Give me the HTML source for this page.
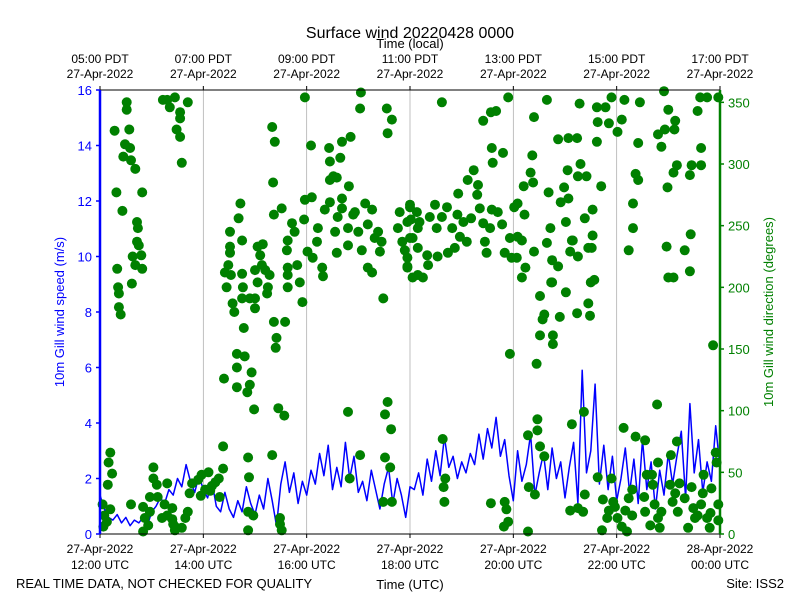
<!DOCTYPE html>
<html><head><meta charset="utf-8"><style>
body{margin:0;background:#fff;}
svg{display:block;font-family:"Liberation Sans","DejaVu Sans",sans-serif;}
</style></head><body>
<svg id="chart" width="800" height="600" viewBox="0 0 800 600">
<rect x="0" y="0" width="800" height="600" fill="#fff"/>
<text x="410" y="38" text-anchor="middle" font-size="16">Surface wind 20220428 0000</text>
<text x="410" y="48" text-anchor="middle" font-size="13">Time (local)</text>
<g id="grid"></g>
<g id="series"></g>
<g id="axes"></g>
<text transform="translate(64,312) rotate(-90)" text-anchor="middle" font-size="13" fill="blue">10m Gill wind speed (m/s)</text>
<text transform="translate(773,312) rotate(-90)" text-anchor="middle" font-size="13" fill="green">10m Gill wind direction (degrees)</text>
<text x="16" y="588" font-size="13">REAL TIME DATA, NOT CHECKED FOR QUALITY</text>
<text x="410" y="589" text-anchor="middle" font-size="13">Time (UTC)</text>
<text x="784" y="588" text-anchor="end" font-size="13">Site: ISS2</text>
</svg>
<script>
const speedStartMin = 0;
const speedStepMin = 5;
const speedValues = [1.4,0.9,0.6,0.5,0.7,0.4,0.6,0.3,0.5,0.4,0.6,0.3,0.8,
1.0,1.3,1.1,1.6,1.4,2.0,1.7,2.5,1.9,1.5,2.1,1.6,
1.3,1.9,1.0,0.8,1.5,0.9,0.6,1.2,0.8,1.7,1.1,0.7,
1.4,0.9,2.0,1.2,0.3,1.8,2.6,1.5,2.2,1.1,1.9,1.4,
2.3,1.8,2.9,2.1,3.2,1.6,2.4,1.7,3.3,2.0,2.8,1.5,
1.9,1.2,2.3,1.6,0.9,1.8,2.4,1.1,2.0,1.4,0.6,1.7,
1.6,2.2,1.4,2.7,1.9,3.0,2.1,3.5,2.4,2.8,2.0,2.6,
2.2,2.9,2.5,3.6,2.7,3.8,3.1,4.2,2.8,3.4,2.1,1.2,
3.0,1.9,2.5,3.6,1.4,2.2,2.9,1.6,3.1,2.0,2.6,1.3,
2.4,3.3,1.1,5.9,2.2,3.0,5.4,1.8,3.2,1.6,2.8,1.2,
2.0,3.1,1.5,2.7,1.1,3.4,1.6,2.6,0.9,2.3,1.4,2.9,
1.8,2.8,3.7,1.3,4.7,2.2,3.4,1.5,2.6,1.9,3.9,2.4];
const dirMinutes = [12,10,14,9,4,5,3,12,8,17,31,31,34,29,27,35,36,41,19,49,26,43,44,43,45,38,48,41,49,20,37,21,22,22,24,
36,50,62,62,66,78,58,67,75,84,72,78,87,52,58,56,50,
73,87,81,93,93,102,89,93,95,78,
95,99,102,104,107,114,118,122,126,130,134,138,117,128,139,143,143,84,87,85,
163,161,151,165,151,151,149,145,152,147,165,166,154,156,165,180,180,174,167,159,159,168,176,159,171,174,144,179,
183,189,186,188,192,197,195,194,183,180,200,203,201,202,211,202,215,205,204,207,214,
172,173,200,172,178,172,209,211,209,
217,218,223,226,218,218,218,229,232,235,237,238,246,245,241,247,252,253,258,259,261,267,267,267,266,271,279,281,291,275,276,281,281,273,275,288,289,294,296,288,300,304,308,311,316,319,311,316,323,325,327,329,333,339,334,303,302,238,348,346,351,354,357,360,361,363,363,
288,290,302,331,334,331,338,337,329,339,
360,357,360,357,357,368,369,371,369,369,375,380,381,383,389,391,392,397,403,404,409,412,415,416,418,422,426,427,431,434,438,439,441,445,447,449,453,455,456,455,460,454,445,397,462,467,468,470,474,476,478,476,481,485,484,485,490,490,493,494,492,502,500,503,504,504,519,521,523,519,525,532,524,532,535,539,541,544,548,544,554,557,543,558,555,565,541,546,555,549,563,567,572,572,571,570,574,567,569,554,534,526,526,511,514,516,511,525,507,577,578,577,582,587,591,594,601,606,609,627,625,622,625,619,619,614,655,660,668,667,656,648,652,670,666,659,658,660,666,679,686,685,685,687,698,698,694,697,705,718,712,
398,401,399,400,454,470,472,474,469,497,498,505,508,508,511,516,497,546,548,555,561,562,563,578,584,583,589,591,594,596,598,601,606,608,610,612,614,618,618,622,633,632,633,635,639,641,642,644,647,648,648,650,652,662,663,665,668,670,671,673,679,683,687,689,691,694,698,701,700,705,708,709,710,715,716,718,718];
const dirValues = [66,58,49,40,6,15,24,20,10,327,350,344,328,316,306,313,303,296,277,277,262,253,248,237,234,225,226,218,215,215,203,200,195,184,178,
24,22,54,45,40,41,30,30,24,21,13,15,6,13,18,7,2,
352,354,346,342,337,350,328,322,301,352,
5,13,18,33,41,44,48,36,50,39,42,45,31,35,30,71,53,12,3,8,
268,256,245,238,233,228,218,212,210,200,211,200,187,180,191,191,183,191,167,146,135,144,131,119,115,121,126,101,
233,235,226,218,214,210,200,195,204,214,330,318,285,259,264,172,172,159,151,102,96,
62,46,64,18,15,3,13,3,8,
230,238,252,245,216,210,200,218,204,188,255,271,273,315,229,224,237,248,216,209,263,269,287,302,313,290,305,318,322,289,257,272,264,245,228,248,282,259,261,234,245,230,268,251,263,240,216,212,245,229,237,191,345,336,325,358,345,354,261,248,237,230,216,267,255,240,208,
99,45,64,62,107,97,85,54,26,26,
265,253,240,224,217,261,248,253,232,210,208,226,218,257,267,248,225,257,265,228,248,232,259,276,241,253,237,287,256,295,275,283,264,252,237,228,248,263,301,313,343,342,335,350,261,251,309,228,354,240,224,146,265,268,224,241,238,208,259,216,282,307,293,285,338,229,352,277,248,236,222,217,204,320,269,281,253,272,238,321,321,349,295,300,290,290,196,229,225,238,256,232,263,242,232,204,206,187,177,179,176,161,154,161,174,178,193,204,138,346,334,318,282,346,333,354,326,336,352,350,317,292,287,268,248,230,359,344,335,328,328,324,314,299,293,281,233,208,208,230,243,213,291,299,299,313,343,354,354,354,153,
77,45,38,26,25,26,20,10,6,80,38,32,93,84,71,63,2,19,89,21,18,99,32,46,28,3,13,19,45,26,22,13,6,86,19,2,29,36,15,79,76,30,18,48,7,48,40,24,105,58,13,5,18,40,64,26,33,75,18,41,29,5,38,21,13,15,24,48,33,13,5,17,37,66,58,24,11];
const xTicksUtc = ["12:00 UTC","14:00 UTC","16:00 UTC","18:00 UTC","20:00 UTC","22:00 UTC","00:00 UTC"];
const xTicksUtcDate = ["27-Apr-2022","27-Apr-2022","27-Apr-2022","27-Apr-2022","27-Apr-2022","27-Apr-2022","28-Apr-2022"];
const xTicksLocal = ["05:00 PDT","07:00 PDT","09:00 PDT","11:00 PDT","13:00 PDT","15:00 PDT","17:00 PDT"];
const xTicksLocalDate = ["27-Apr-2022","27-Apr-2022","27-Apr-2022","27-Apr-2022","27-Apr-2022","27-Apr-2022","27-Apr-2022"];
const xTickMinutes = [0,120,240,360,480,600,720];
const leftTicks = [0,2,4,6,8,10,12,14,16];
const rightTicks = [0,50,100,150,200,250,300,350];

const NS="http://www.w3.org/2000/svg";
const L=100,R=720,T=90,B=534;
function xs(m){return L+(m/720)*(R-L);}
function ysp(v){return B-(v/16)*(B-T);}
function ydir(d){return B-(d/360)*(B-T);}
function mk(tag,attrs,parent){const e=document.createElementNS(NS,tag);for(const k in attrs)e.setAttribute(k,attrs[k]);parent.appendChild(e);return e;}
const grid=document.getElementById('grid'),series=document.getElementById('series'),axes=document.getElementById('axes');

xTickMinutes.forEach((m,i)=>{
  if(i>0&&i<xTickMinutes.length-1){const g=mk('line',{x1:xs(m),x2:xs(m),y1:T,y2:B,stroke:'#b0b0b0','stroke-width':0.8},grid);
  
  }
  mk('line',{x1:xs(m),x2:xs(m),y1:B,y2:B+4,stroke:'#000'},axes);
  mk('line',{x1:xs(m),x2:xs(m),y1:T,y2:T-4,stroke:'#000'},axes);
  const t1=mk('text',{x:xs(m),y:553,'text-anchor':'middle','font-size':12},axes);t1.textContent=xTicksUtcDate[i];
  
  
  const t2=mk('text',{x:xs(m),y:569,'text-anchor':'middle','font-size':12},axes);t2.textContent=xTicksUtc[i];
  
  
  const t3=mk('text',{x:xs(m),y:63,'text-anchor':'middle','font-size':12},axes);t3.textContent=xTicksLocal[i];
  
  
  const t4=mk('text',{x:xs(m),y:78,'text-anchor':'middle','font-size':12},axes);t4.textContent=xTicksLocalDate[i];
  
  
});

let d='';
speedValues.forEach((v,i)=>{d+=(i?'L':'M')+xs(speedStartMin+i*speedStepMin).toFixed(1)+','+ysp(v).toFixed(1);});
const line=mk('path',{d:d,fill:'none',stroke:'blue','stroke-width':1.5,'stroke-linejoin':'round'},series);



const nDir=Math.min(dirMinutes.length,dirValues.length);
for(let i=0;i<nDir;i++){
  const c=mk('circle',{cx:xs(dirMinutes[i]).toFixed(1),cy:ydir(dirValues[i]).toFixed(1),r:5,fill:'green'},series);
  
  
}

mk('line',{x1:L,x2:R,y1:T,y2:T,stroke:'#000','stroke-width':1},axes);
mk('line',{x1:L,x2:R,y1:B,y2:B,stroke:'#000','stroke-width':1},axes);
const ls=mk('line',{x1:L,x2:L,y1:T,y2:B,stroke:'blue','stroke-width':2.5},axes);


const rs=mk('line',{x1:R,x2:R,y1:T,y2:B,stroke:'green','stroke-width':2.5},axes);


leftTicks.forEach(v=>{
  mk('line',{x1:L-4,x2:L,y1:ysp(v),y2:ysp(v),stroke:'blue','stroke-width':1.5},axes);
  const t=mk('text',{x:L-8,y:ysp(v)+5,'text-anchor':'end','font-size':13,fill:'blue'},axes);t.textContent=v;
  
  
});
rightTicks.forEach(v=>{
  mk('line',{x1:R,x2:R+4,y1:ydir(v),y2:ydir(v),stroke:'green','stroke-width':1.5},axes);
  const t=mk('text',{x:R+8,y:ydir(v)+5,'text-anchor':'start','font-size':13,fill:'green'},axes);t.textContent=v;
  
  
});
</script>
</body></html>
